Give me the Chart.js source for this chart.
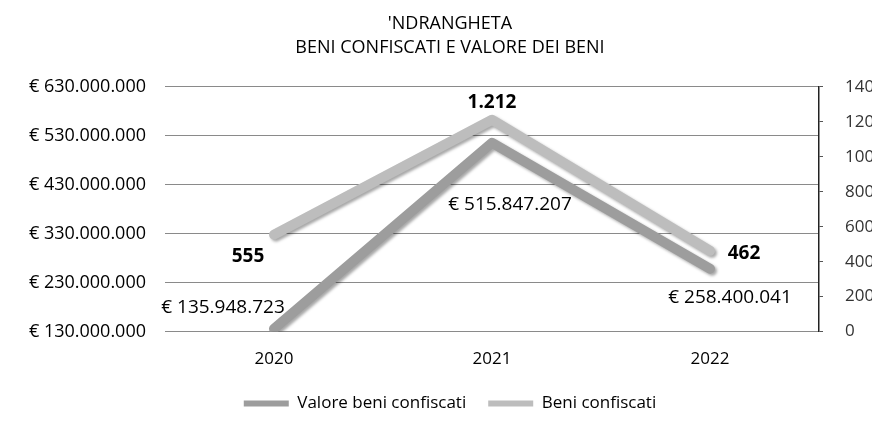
<!DOCTYPE html>
<html>
<head>
<meta charset="utf-8">
<script src="https://cdn.jsdelivr.net/npm/chart.js@4.4.0/dist/chart.umd.min.js"></script>
<style>
  html, body { margin: 0; padding: 0; background: #fff; overflow: hidden; }
  #wrap { width: 900px; height: 430px; }
</style>
</head>
<body>
<div id="wrap"><canvas id="beniChart" width="900" height="430"></canvas></div>
<script>
const ctx = document.getElementById('beniChart');

const anni = ['2020', '2021', '2022'];
const valoreBeni = [135948723, 515847207, 258400041];
const beniConfiscati = [555, 1212, 462];
const titolo = ["'NDRANGHETA", 'BENI CONFISCATI E VALORE DEI BENI'];

// spostamento delle etichette rispetto al punto (px)
const offsetValore = [[-51, -21], [18, 62], [20, 29]];
const offsetBeni = [[-26, 22], [0, -17], [34, 3]];

const FONT = "'Open Sans', sans-serif";

function puntini(n) {
    return String(n).replace(/\B(?=(\d{3})+(?!\d))/g, '.');
}

const ombra = {
    id: 'ombra',
    beforeDatasetDraw(chart) {
        const c = chart.ctx;
        c.save();
        c.shadowColor = 'rgba(0,0,0,0.35)';
        c.shadowBlur = 3;
        c.shadowOffsetX = 2;
        c.shadowOffsetY = 2;
    },
    afterDatasetDraw(chart) {
        chart.ctx.restore();
    }
};

const etichette = {
    id: 'etichette',
    afterDatasetsDraw(chart) {
        const c = chart.ctx;
        c.save();
        c.fillStyle = '#000';
        c.textAlign = 'center';
        c.textBaseline = 'middle';
        chart.getDatasetMeta(0).data.forEach((p, i) => {
            c.font = '19px ' + FONT;
            c.fillText('€ ' + puntini(valoreBeni[i]), p.x + offsetValore[i][0], p.y + offsetValore[i][1]);
        });
        chart.getDatasetMeta(1).data.forEach((p, i) => {
            c.font = 'bold 19px ' + FONT;
            c.fillText(puntini(beniConfiscati[i]), p.x + offsetBeni[i][0], p.y + offsetBeni[i][1]);
        });
        c.restore();
    }
};

new Chart(ctx, {
    type: 'line',
    data: {
        labels: anni,
        datasets: [{
                label: 'Valore beni confiscati',
                data: valoreBeni,
                yAxisID: 'y',
                borderColor: '#9d9d9d',
                backgroundColor: '#9d9d9d',
                borderWidth: 10,
                borderCapStyle: 'round',
                borderJoinStyle: 'round',
                pointRadius: 0,
                tension: 0
            },
            {
                label: 'Beni confiscati',
                data: beniConfiscati,
                yAxisID: 'y1',
                borderColor: '#bdbdbd',
                backgroundColor: '#bdbdbd',
                borderWidth: 10,
                borderCapStyle: 'round',
                borderJoinStyle: 'round',
                pointRadius: 0,
                tension: 0
            }
        ]
    },
    options: {
        responsive: false,
        animation: false,
        layout: { padding: { top: 0, bottom: 8, left: 0, right: 0 } },
        plugins: {
            title: {
                display: true,
                text: titolo,
                color: '#000',
                font: { family: FONT, size: 18, weight: 'normal', lineHeight: 1.33 },
                padding: { top: 12, bottom: 27 }
            },
            legend: {
                position: 'bottom',
                labels: {
                    color: '#000',
                    font: { family: FONT, size: 17 },
                    boxWidth: 45,
                    boxHeight: 6,
                    padding: 22,
                    generateLabels(chart) {
                        const items = Chart.defaults.plugins.legend.labels.generateLabels(chart);
                        items.forEach(it => { it.lineWidth = 0; });
                        return items;
                    }
                }
            },
            tooltip: { enabled: false }
        },
        scales: {
            x: {
                offset: true,
                afterFit(s) { s.height -= 13; },
                grid: { display: false, drawTicks: false },
                border: { display: false },
                ticks: { color: '#000', font: { family: FONT, size: 17 }, padding: 17 }
            },
            y: {
                position: 'left',
                min: 130000000,
                max: 630000000,
                afterFit(s) { s.width = 165; },
                grid: { color: '#8a8a8a', lineWidth: 1, drawTicks: false },
                border: { display: false },
                ticks: {
                    stepSize: 100000000,
                    color: '#000',
                    font: { family: FONT, size: 18 },
                    padding: 19,
                    callback: v => '€ ' + puntini(v)
                }
            },
            y1: {
                position: 'right',
                min: 0,
                max: 1400,
                afterFit(s) { s.width = 81; },
                grid: { drawOnChartArea: false, tickLength: 4, color: '#555' },
                border: { display: true, color: '#222', width: 1.5 },
                ticks: {
                    stepSize: 200,
                    color: '#333',
                    font: { family: FONT, size: 17 },
                    padding: 22,
                    callback: v => String(v)
                }
            }
        }
    },
    plugins: [ombra, etichette]
});
</script>
</body>
</html>
